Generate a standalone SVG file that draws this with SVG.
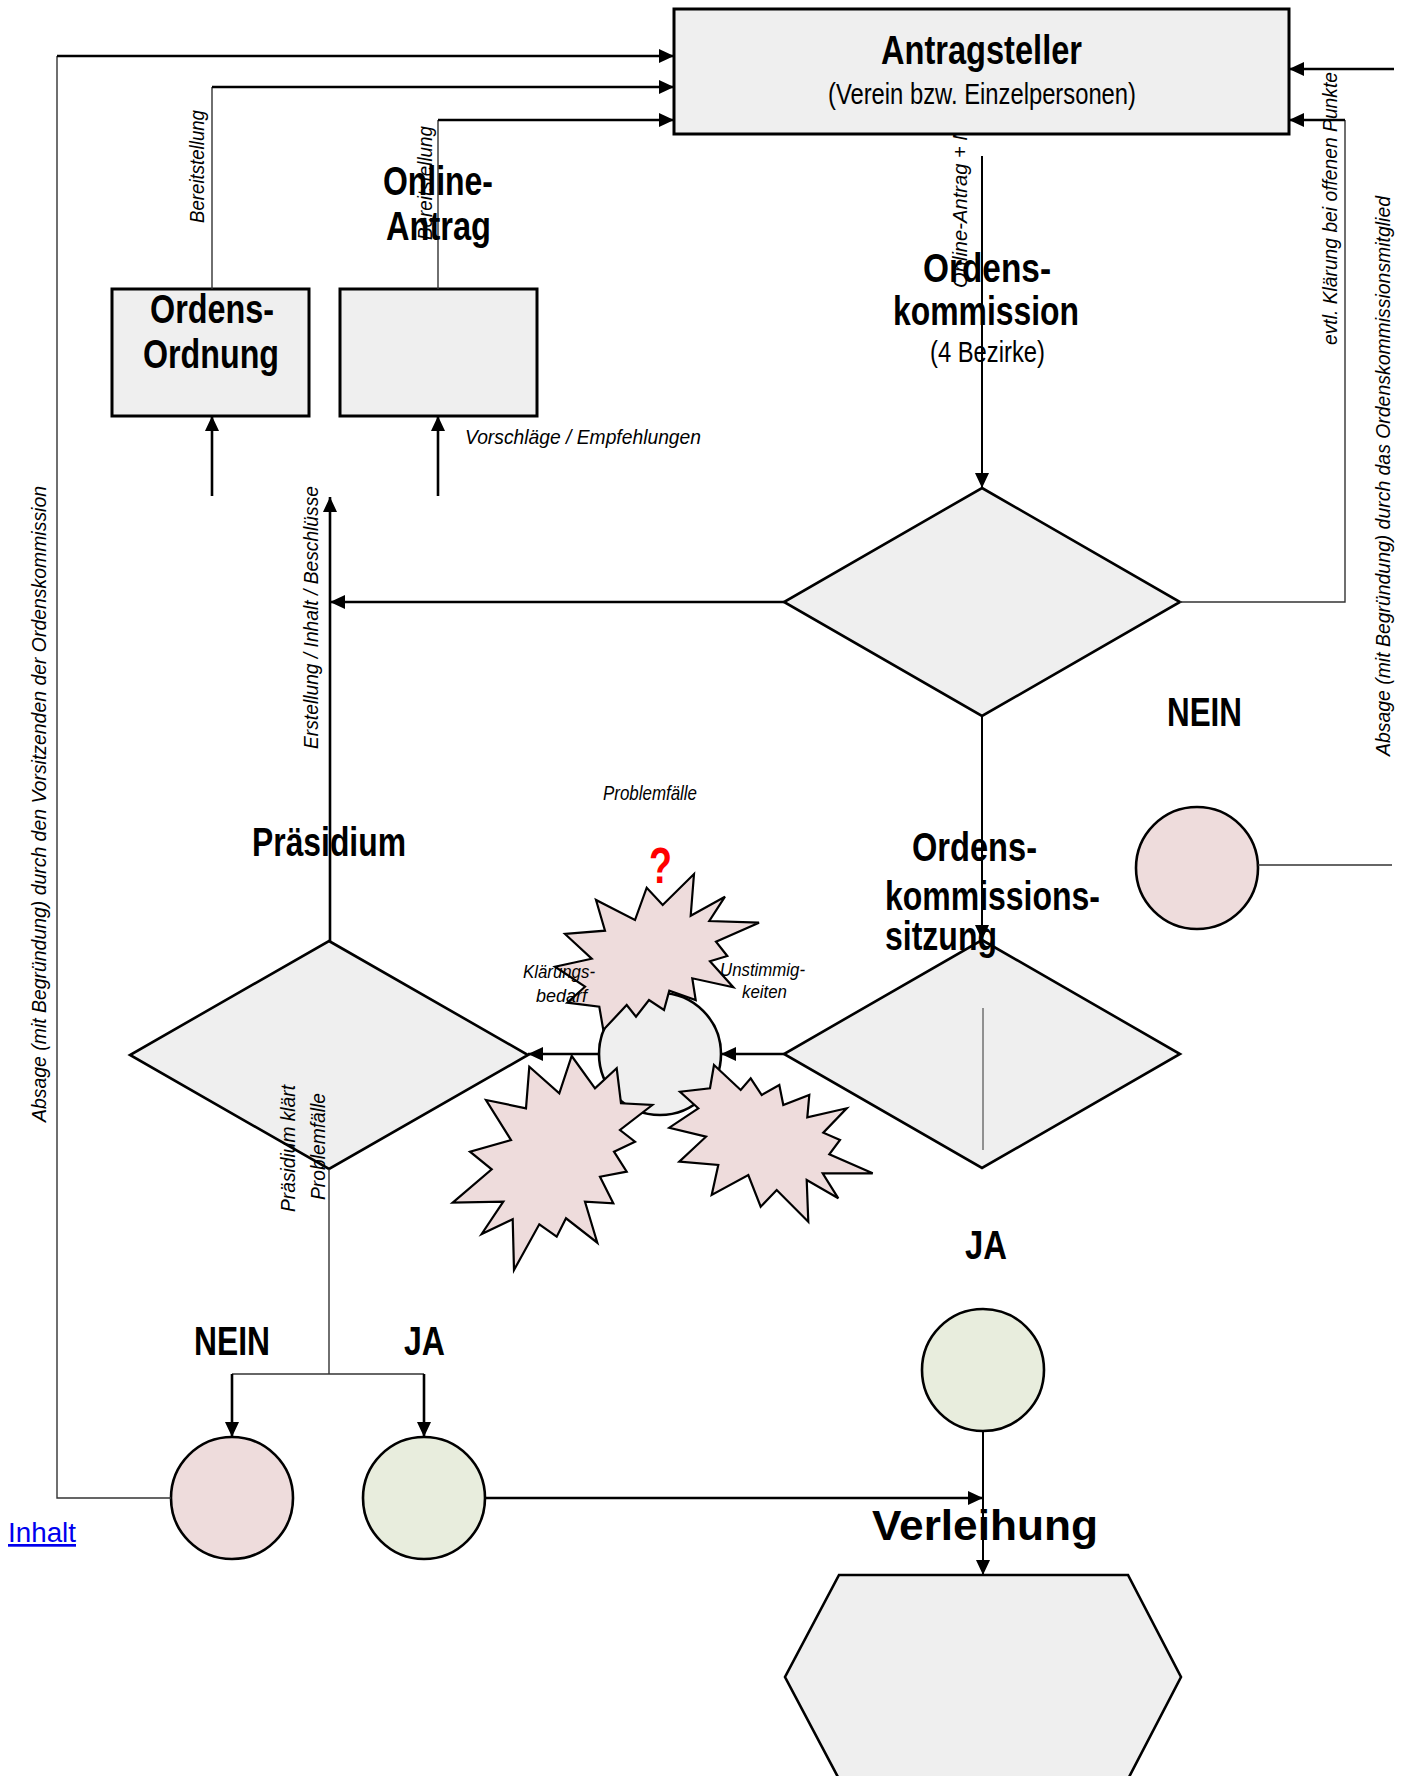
<svg xmlns="http://www.w3.org/2000/svg" width="1409" height="1776" viewBox="0 0 1409 1776">
<style>
.shape{fill:#efefef;stroke:#000;stroke-width:2.6}
.pink{fill:#eedcdc;stroke:#000;stroke-width:2.6}
.green{fill:#e8eddd;stroke:#000;stroke-width:2.6}
.star{fill:#eedcdc;stroke:#000;stroke-width:2.2;stroke-linejoin:miter}
.thick{fill:none;stroke:#000;stroke-width:2.6}
.thin{fill:none;stroke:#333;stroke-width:1.4}
.arr{marker-end:url(#ah)}
.h{font-family:"Liberation Sans Narrow","Arial Narrow","Liberation Sans",Arial,sans-serif;font-weight:bold;font-size:40px;fill:#000}
.r{font-family:"Liberation Sans Narrow","Arial Narrow","Liberation Sans",Arial,sans-serif;font-size:29px;fill:#000}
.i{font-family:"Liberation Sans Narrow","Arial Narrow","Liberation Sans",Arial,sans-serif;font-style:italic;font-size:21px;fill:#000}
.s{font-family:"Liberation Sans Narrow","Arial Narrow","Liberation Sans",Arial,sans-serif;font-style:italic;font-size:19px;fill:#000}
</style>
<defs>
<marker id="ah" viewBox="0 0 15 14" refX="15" refY="7" markerWidth="15" markerHeight="14" markerUnits="userSpaceOnUse" orient="auto">
<path d="M0,0 L15,7 L0,14 z" fill="#000"/>
</marker>
</defs>
<rect width="1409" height="1776" fill="#fff"/>

<text class="i" x="967" y="288" transform="rotate(-90 967 288)" textLength="162" lengthAdjust="spacingAndGlyphs">Online-Antrag + N</text>

<g id="antragsteller">
<rect class="shape" x="674" y="9" width="615" height="125" style="stroke-width:3"/>
</g>
<g id="ordensordnung">
<rect class="shape" x="112" y="289" width="197" height="127" style="stroke-width:3"/>
</g>
<g id="onlineantrag">
<rect class="shape" x="340" y="289" width="197" height="127" style="stroke-width:3"/>
</g>
<g id="ordenskommission">
<polygon class="shape" points="982,488 1180,602 982,716 784,602"/>
</g>
<g id="praesidium">
<polygon class="shape" points="329,941 528,1055 329,1169 130,1055"/>
</g>
<g id="sitzung">
<polygon class="shape" points="982,940 1180,1054 982,1168 784,1054"/>
</g>
<g id="nein-rechts">
<circle class="pink" cx="1197" cy="868" r="61"/>
</g>
<g id="problem">
<circle class="shape" cx="660" cy="1054" r="61"/>
<polygon class="star" points="694,874 690.7,915.7 725,896.7 709.3,921 759,922.7 716,941.7 727.3,956 710,961.3 733.3,987.3 692.3,978.3 695.7,1000 669.3,990.7 664,1010 649,1000 636,1016.7 626.7,1005 603.3,1030 599.3,1006.7 567.3,1002.7 585,986.7 555,966.7 591.7,958.7 565,934 605,930.7 596,900 635,920 646.7,887.7 662.7,905"/>
<polygon class="star" points="571.7,1056 595,1088.3 616.7,1068.3 621,1103.3 652.3,1105 620,1130 635,1141.7 614,1151.7 626.7,1171.7 600,1176.7 613.3,1203.3 585,1201.7 597.3,1242.7 566,1218.3 556.7,1236.7 539.3,1224.3 514,1270 512.7,1219.3 481.7,1234 503.3,1201.7 452.7,1202.7 491.7,1169.3 470,1151.7 511,1140 486,1100 526,1108.3 529.3,1066.7 559.3,1093.3"/>
<polygon class="star" points="714,1065 740.7,1090 750.7,1078.3 761.7,1095 779.3,1085 783.3,1105 809.3,1095 807.3,1117.3 846.7,1108.3 823.3,1132.7 840,1140 829.3,1154.3 872.7,1173.3 822.7,1173.3 838.3,1198.3 806.7,1180 808.3,1221.7 776.7,1190 760.7,1206.7 748.3,1175 711.7,1195 718.3,1165 679.3,1161.7 706,1136.7 669.3,1127.7 698.3,1108.3 680,1091.7 710,1088.3"/>
</g>
<g id="nein-links">
<circle class="pink" cx="232" cy="1498" r="61"/>
</g>
<g id="ja-links">
<circle class="green" cx="424" cy="1498" r="61"/>
</g>
<g id="ja-rechts">
<circle class="green" cx="983" cy="1370" r="61"/>
</g>
<g id="verleihung">
<polygon class="shape" points="839,1575 1128,1575 1181,1677 1128,1779 839,1779 785,1677"/>
</g>

<g id="connectors">
<path class="thin" d="M171,1498 H57 V56"/>
<path class="thick arr" d="M57,56 H674"/>
<path class="thin" d="M212,289 V87"/>
<path class="thick arr" d="M212,87 H674"/>
<path class="thin" d="M438,289 V120"/>
<path class="thick arr" d="M438,120 H674"/>
<path class="thick arr" d="M1394,69 H1289"/>
<path class="thin" d="M1180,602 H1345 V120"/>
<path class="thick arr" d="M1345,120 H1289"/>
<path class="thick arr" d="M982,156 V488" style="stroke-width:2"/>
<path class="thick arr" d="M982,716 V940" style="stroke-width:2"/>
<path class="thick arr" d="M784,602 H330"/>
<path class="thick arr" d="M330,941 V497"/>
<path class="thick arr" d="M212,496 V416"/>
<path class="thick arr" d="M438,496 V416"/>
<path class="thick arr" d="M784,1054 H721"/>
<path class="thick arr" d="M599,1054 H528"/>
<path class="thin" d="M329,1169 V1374"/>
<path class="thin" d="M232,1374 H424"/>
<path class="thick arr" d="M232,1374 V1437"/>
<path class="thick arr" d="M424,1374 V1437"/>
<path class="thick arr" d="M485,1498 H983"/>
<path class="thick arr" d="M983,1431 V1575" style="stroke-width:2"/>
<path class="thin" d="M1258,865 H1392"/>
<path class="thin" d="M983,1008 V1150" style="stroke-width:1"/>
</g>

<g id="labels">
<text class="h" x="881" y="64" textLength="201" lengthAdjust="spacingAndGlyphs">Antragsteller</text>
<text class="r" x="828" y="104" textLength="308" lengthAdjust="spacingAndGlyphs">(Verein bzw. Einzelpersonen)</text>
<text class="h" x="383" y="195" textLength="110" lengthAdjust="spacingAndGlyphs">Online-</text>
<text class="h" x="386" y="240" textLength="105" lengthAdjust="spacingAndGlyphs">Antrag</text>
<text class="h" x="150" y="323" textLength="124" lengthAdjust="spacingAndGlyphs">Ordens-</text>
<text class="h" x="143" y="368" textLength="136" lengthAdjust="spacingAndGlyphs">Ordnung</text>
<text class="h" x="923" y="282" textLength="128" lengthAdjust="spacingAndGlyphs">Ordens-</text>
<text class="h" x="893" y="325" textLength="186" lengthAdjust="spacingAndGlyphs">kommission</text>
<text class="r" x="930" y="362" textLength="115" lengthAdjust="spacingAndGlyphs">(4 Bezirke)</text>
<text class="h" x="252" y="856" textLength="154" lengthAdjust="spacingAndGlyphs">Präsidium</text>
<text class="h" x="1167" y="726" textLength="75" lengthAdjust="spacingAndGlyphs">NEIN</text>
<text class="h" x="912" y="861" textLength="125" lengthAdjust="spacingAndGlyphs">Ordens-</text>
<text class="h" x="885" y="910" textLength="215" lengthAdjust="spacingAndGlyphs">kommissions-</text>
<text class="h" x="885" y="950" textLength="112" lengthAdjust="spacingAndGlyphs">sitzung</text>
<text class="h" x="194" y="1355" textLength="76" lengthAdjust="spacingAndGlyphs">NEIN</text>
<text class="h" x="404" y="1355" textLength="41" lengthAdjust="spacingAndGlyphs">JA</text>
<text class="h" x="965" y="1259" textLength="42" lengthAdjust="spacingAndGlyphs">JA</text>
<text x="872" y="1540" textLength="226" lengthAdjust="spacingAndGlyphs" style="font-family:'Liberation Sans',Arial,sans-serif;font-weight:bold;font-size:43px">Verleihung</text>
<text x="649" y="883" textLength="23" lengthAdjust="spacingAndGlyphs" style="font-family:'Liberation Sans Narrow','Liberation Sans',Arial,sans-serif;font-weight:bold;font-size:50px;fill:#ff0000">?</text>

<text class="i" x="465" y="444" textLength="236" lengthAdjust="spacingAndGlyphs">Vorschläge / Empfehlungen</text>
<text class="i" x="603" y="800" textLength="94" lengthAdjust="spacingAndGlyphs">Problemfälle</text>
<text class="s" x="523" y="978" textLength="72" lengthAdjust="spacingAndGlyphs">Klärungs-</text>
<text class="s" x="536" y="1002" textLength="51" lengthAdjust="spacingAndGlyphs">bedarf</text>
<text class="s" x="720" y="976" textLength="85" lengthAdjust="spacingAndGlyphs">Unstimmig-</text>
<text class="s" x="742" y="998" textLength="45" lengthAdjust="spacingAndGlyphs">keiten</text>

<text class="i" x="204" y="223" transform="rotate(-90 204 223)" textLength="113" lengthAdjust="spacingAndGlyphs">Bereitstellung</text>
<text class="i" x="432" y="240" transform="rotate(-90 432 240)" textLength="114" lengthAdjust="spacingAndGlyphs">Bereitstellung</text>
<text class="i" x="1337" y="345" transform="rotate(-90 1337 345)" textLength="273" lengthAdjust="spacingAndGlyphs">evtl. Klärung bei offenen Punkte</text>
<text class="i" x="1390" y="756" transform="rotate(-90 1390 756)" textLength="560" lengthAdjust="spacingAndGlyphs">Absage (mit Begründung) durch das Ordenskommissionsmitglied</text>
<text class="i" x="46" y="1122" transform="rotate(-90 46 1122)" textLength="636" lengthAdjust="spacingAndGlyphs">Absage (mit Begründung) durch den Vorsitzenden der Ordenskommission</text>
<text class="i" x="318" y="749" transform="rotate(-90 318 749)" textLength="263" lengthAdjust="spacingAndGlyphs">Erstellung / Inhalt / Beschlüsse</text>
<text class="i" x="295" y="1212" transform="rotate(-90 295 1212)" textLength="127" lengthAdjust="spacingAndGlyphs">Präsidium klärt</text>
<text class="i" x="325" y="1200" transform="rotate(-90 325 1200)" textLength="107" lengthAdjust="spacingAndGlyphs">Problemfälle</text>

<text x="8" y="1542" textLength="68" lengthAdjust="spacingAndGlyphs" style="font-family:'Liberation Sans',Arial,sans-serif;font-size:27px;fill:#0000ee;text-decoration:underline">Inhalt</text>
</g>
</svg>
